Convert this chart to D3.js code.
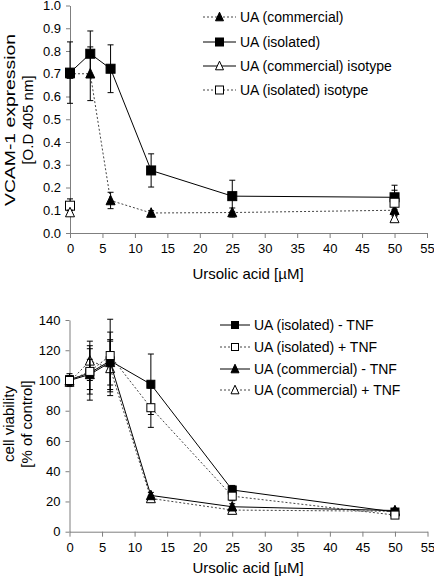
<!DOCTYPE html>
<html><head><meta charset="utf-8">
<script src="https://cdn.jsdelivr.net/npm/d3@7/dist/d3.min.js"></script>
<style>
html,body{margin:0;padding:0;background:#fff;}
svg{display:block;font-family:"Liberation Sans",Arial,sans-serif;}
</style></head><body>
<svg id="c" width="434" height="578"></svg>
<script>
// ---- data ----
const conc = [0, 3.125, 6.25, 12.5, 25, 50];
const isoConc = [0, 50];
const xTicks = [0,5,10,15,20,25,30,35,40,45,50,55];

// top chart: VCAM-1 expression
const vcamIsolated = [0.705, 0.788, 0.722, 0.275, 0.162, 0.157];
const vcamIsolatedErr = [0.135, 0.10, 0.105, 0.073, 0.07, 0.053];
const vcamCommercial = [0.70, 0.70, 0.143, 0.088, 0.09, 0.10];
const vcamCommercialErr = [0.02, 0.118, 0.036, 0.01, 0.02, 0.02];
const vcamIsolatedIso = [0.12, 0.133];
const vcamIsolatedIsoErr = [0.03, 0.055];
const vcamCommercialIso = [0.09, 0.064];
const vcamCommercialIsoErr = [0.01, 0.01];
const vcamTicks = [0,0.1,0.2,0.3,0.4,0.5,0.6,0.7,0.8,0.9,1.0];

// bottom chart: cell viability
const viaIsoMinus = [100.5, 105, 113, 97.5, 27.6, 13];
const viaIsoMinusErr = [4, 18, 19, 20, 3, 2];
const viaIsoPlus = [100, 106, 116.5, 82, 23.5, 11];
const viaIsoPlusErr = [3, 15, 24, 13, 3, 2];
const viaComMinus = [100, 104, 112, 24, 16.5, 14];
const viaComMinusErr = [3, 10, 15, 2, 2, 1];
const viaComPlus = [99, 113, 108, 22, 14.3, 13.5];
const viaComPlusErr = [3, 13, 18, 2, 2, 1];
const viaTicks = [0,20,40,60,80,100,120,140];

const legendTop = ["UA (commercial)","UA (isolated)","UA (commercial) isotype","UA (isolated) isotype"];
const legendBottom = ["UA (isolated) - TNF","UA (isolated) + TNF","UA (commercial) - TNF","UA (commercial) + TNF"];

// ---- drawing ----
const svg = d3.select("#c");
const AX = "#7f7f7f";

function marker(g, shape, filled, x, y, s){
  const fill = filled ? "#000" : "#fff";
  if(shape==="square"){
    g.append("rect").attr("x",x-s/2).attr("y",y-s/2).attr("width",s).attr("height",s)
      .attr("fill",fill).attr("stroke","#000").attr("stroke-width",1);
  } else {
    const h = s*0.95;
    g.append("path").attr("d",`M${x},${y-h/2-1}L${x+s/2},${y+h/2}L${x-s/2},${y+h/2}Z`)
      .attr("fill",fill).attr("stroke","#000").attr("stroke-width",1);
  }
}

function series(g, x, y, xs, vals, errs, opt){
  const pts = xs.map((c,i)=>[c, vals[i], errs[i]]);
  if(opt.line){
    const line = d3.line().x(d=>x(d[0])).y(d=>y(d[1]));
    g.append("path").datum(pts).attr("d",line).attr("fill","none")
      .attr("stroke", opt.dotted ? "#444" : "#000").attr("stroke-width",1)
      .attr("stroke-dasharray", opt.dotted ? "2,2" : null);
  }
  pts.forEach(d=>{
    const cx = x(d[0]), y1 = y(d[1]+d[2]), y2 = y(d[1]-d[2]);
    g.append("line").attr("x1",cx).attr("x2",cx).attr("y1",y1).attr("y2",y2).attr("stroke","#000");
    [y1,y2].forEach(yy=>g.append("line").attr("x1",cx-3).attr("x2",cx+3).attr("y1",yy).attr("y2",yy).attr("stroke","#000"));
  });
  pts.forEach(d=> marker(g, opt.shape, opt.filled, x(d[0]), y(d[1]), opt.size));
}

function axes(x, y, yTicks, yFmt, yTitle, titleX, titleLen, titleCy, xTitleY){
  const gx = svg.append("g").attr("transform",`translate(0,${y.range()[0]})`)
    .call(d3.axisBottom(x).tickValues(xTicks).tickSize(5).tickPadding(6).tickSizeOuter(0));
  const gy = svg.append("g").attr("transform",`translate(${x.range()[0]},0)`)
    .call(d3.axisLeft(y).tickValues(yTicks).tickFormat(yFmt).tickSize(4).tickPadding(5).tickSizeOuter(0));
  [gx,gy].forEach(g=>{
    g.select(".domain").attr("stroke",AX);
    g.selectAll(".tick line").attr("stroke",AX);
    g.selectAll("text").attr("fill","#000").attr("font-size",13).attr("font-family","Liberation Sans, Arial, sans-serif");
  });
  svg.append("text").attr("x",248).attr("y",xTitleY).attr("text-anchor","middle")
    .attr("font-size",15).text("Ursolic acid [µM]");
  yTitle.forEach((t,i)=>{
    const tx = svg.append("text").attr("transform",`translate(${titleX[i]},${titleCy}) rotate(-90)`)
      .attr("text-anchor","middle").attr("font-size",15).text(t);
    if(titleLen[i]) tx.attr("textLength",titleLen[i]).attr("lengthAdjust","spacingAndGlyphs");
  });
}

function legend(items, x0, x1, tx, ys, fs){
  items.forEach((it,i)=>{
    const g = svg.append("g");
    g.append("line").attr("x1",x0).attr("x2",x1).attr("y1",ys[i]).attr("y2",ys[i])
      .attr("stroke", it.dotted ? "#444" : "#000").attr("stroke-dasharray", it.dotted ? "2,2" : null);
    marker(g, it.shape, it.filled, (x0+x1)/2, ys[i], it.size);
    g.append("text").attr("x",tx).attr("y",ys[i]).attr("dy","0.35em").attr("font-size",fs).text(it.label);
  });
}

// top chart
const x1 = d3.scaleLinear().domain([0,55]).range([70,427]);
const y1 = d3.scaleLinear().domain([0,1]).range([233,5.5]);
axes(x1, y1, vcamTicks, d3.format(".1f"), ["VCAM-1 expression","[O.D 405 nm]"], [15,33], [172,null], 120, 279);
const gt = svg.append("g");
series(gt, x1, y1, conc, vcamCommercial, vcamCommercialErr, {line:true,dotted:true,shape:"tri",filled:true,size:9});
series(gt, x1, y1, conc, vcamIsolated, vcamIsolatedErr, {line:true,dotted:false,shape:"square",filled:true,size:9});
series(gt, x1, y1, isoConc, vcamIsolatedIso, vcamIsolatedIsoErr, {line:false,shape:"square",filled:false,size:9});
series(gt, x1, y1, isoConc, vcamCommercialIso, vcamCommercialIsoErr, {line:false,shape:"tri",filled:false,size:9});
legend([
  {label:legendTop[0],dotted:true,shape:"tri",filled:true,size:8},
  {label:legendTop[1],dotted:false,shape:"square",filled:true,size:8},
  {label:legendTop[2],dotted:false,shape:"tri",filled:false,size:8},
  {label:legendTop[3],dotted:true,shape:"square",filled:false,size:8}
], 203, 236, 240, [17,42,66,90], 14);

// bottom chart
const x2 = d3.scaleLinear().domain([0,55]).range([69.5,427.5]);
const y2 = d3.scaleLinear().domain([0,140]).range([531.7,320]);
axes(x2, y2, viaTicks, d3.format("d"), ["cell viability","[% of control]"], [14,32], [null,null], 424, 573);
const gb = svg.append("g");
series(gb, x2, y2, conc, viaComPlus, viaComPlusErr, {line:true,dotted:true,shape:"tri",filled:false,size:9});
series(gb, x2, y2, conc, viaComMinus, viaComMinusErr, {line:true,dotted:false,shape:"tri",filled:true,size:9});
series(gb, x2, y2, conc, viaIsoMinus, viaIsoMinusErr, {line:true,dotted:false,shape:"square",filled:true,size:8});
series(gb, x2, y2, conc, viaIsoPlus, viaIsoPlusErr, {line:true,dotted:true,shape:"square",filled:false,size:8});
legend([
  {label:legendBottom[0],dotted:false,shape:"square",filled:true,size:7},
  {label:legendBottom[1],dotted:true,shape:"square",filled:false,size:7},
  {label:legendBottom[2],dotted:false,shape:"tri",filled:true,size:8},
  {label:legendBottom[3],dotted:true,shape:"tri",filled:false,size:8}
], 220, 250, 254, [325,347,369,390], 14);
</script>
</body></html>
